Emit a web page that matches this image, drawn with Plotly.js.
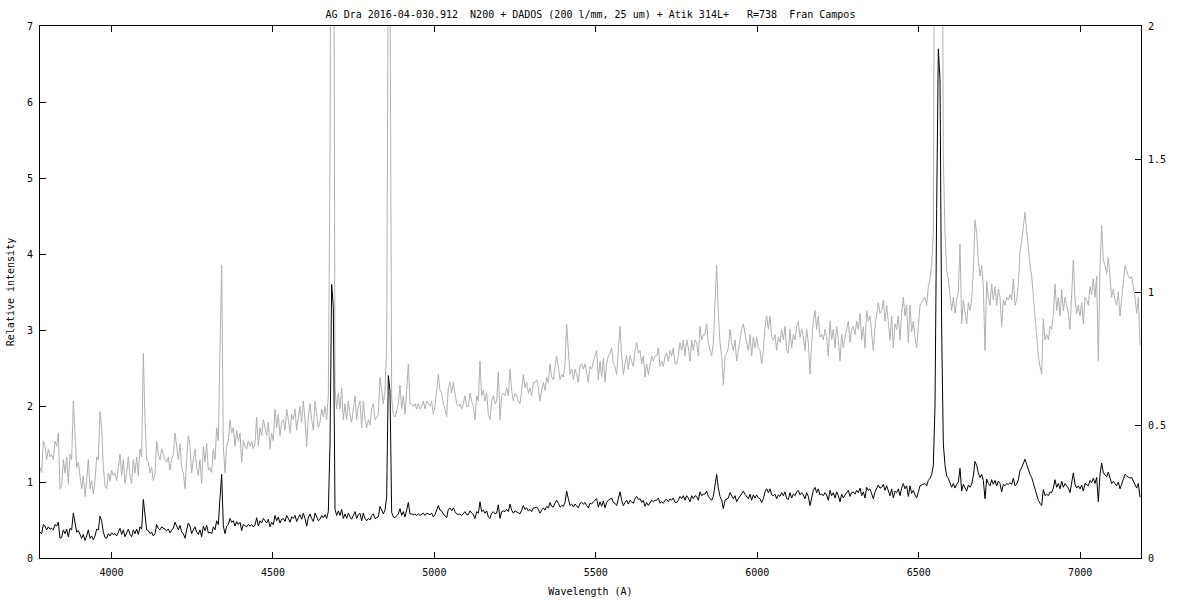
<!DOCTYPE html>
<html><head><meta charset="utf-8">
<script src="https://cdn.plot.ly/plotly-3.0.1.min.js"></script>
<style>html,body{margin:0;padding:0;background:#fff}</style>
</head><body><div id="chart" style="width:1200px;height:600px"></div>
<script>
// Spectrum of AG Dra, uniformly sampled in wavelength (Angstrom)
const startWavelength = 3778.6;
const wavelengthStep = 5.1617;

const flux_3779_4646 = [
0.34,0.32,0.44,0.42,0.37,0.41,0.38,0.39,0.37,0.44,0.42,0.47,0.26,0.27,0.37,0.32,0.38,0.28,0.39,0.37,
0.59,0.45,0.34,0.36,0.31,0.26,0.31,0.23,0.29,0.37,0.26,0.29,0.24,0.29,0.38,0.37,0.55,0.49,0.34,0.27,
0.26,0.32,0.29,0.33,0.31,0.32,0.29,0.34,0.39,0.31,0.37,0.28,0.32,0.38,0.31,0.28,0.37,0.32,0.38,0.31,
0.41,0.38,0.77,0.52,0.37,0.36,0.32,0.34,0.29,0.32,0.44,0.39,0.37,0.41,0.39,0.37,0.36,0.38,0.33,0.37,
0.39,0.47,0.42,0.37,0.43,0.34,0.32,0.26,0.37,0.46,0.42,0.32,0.37,0.41,0.34,0.31,0.37,0.28,0.42,0.36,
0.43,0.33,0.34,0.32,0.41,0.37,0.49,0.44,0.79,1.10,0.42,0.32,0.42,0.44,0.52,0.47,0.49,0.42,0.48,0.44,
0.47,0.36,0.44,0.42,0.41,0.44,0.42,0.44,0.41,0.43,0.53,0.42,0.49,0.46,0.52,0.49,0.46,0.51,0.41,0.47,
0.44,0.56,0.49,0.54,0.46,0.51,0.52,0.48,0.56,0.52,0.47,0.54,0.52,0.56,0.48,0.53,0.57,0.51,0.59,0.52,
0.42,0.53,0.58,0.52,0.48,0.59,0.53,0.49
];
const flux_4646_5513 = [
0.51,0.56,0.53,0.57,0.52,0.61,1.50,3.60,3.30,0.64,0.56,0.62,0.56,0.64,0.52,0.58,0.52,0.59,0.54,0.51,
0.56,0.61,0.52,0.57,0.59,0.49,0.59,0.52,0.49,0.52,0.50,0.56,0.58,0.52,0.53,0.54,0.68,0.62,0.58,0.63,
0.80,2.40,2.20,0.60,0.54,0.53,0.56,0.58,0.65,0.56,0.61,0.54,0.63,0.73,0.58,0.58,0.57,0.58,0.56,0.58,
0.56,0.57,0.59,0.56,0.59,0.58,0.57,0.59,0.54,0.57,0.62,0.69,0.63,0.62,0.58,0.56,0.53,0.64,0.66,0.62,
0.66,0.61,0.58,0.57,0.58,0.56,0.58,0.61,0.57,0.57,0.62,0.59,0.57,0.52,0.61,0.59,0.74,0.61,0.63,0.59,
0.62,0.54,0.52,0.59,0.61,0.58,0.59,0.70,0.52,0.61,0.62,0.61,0.64,0.61,0.71,0.63,0.59,0.62,0.61,0.59,
0.58,0.63,0.69,0.64,0.66,0.62,0.64,0.61,0.66,0.66,0.67,0.64,0.59,0.63,0.66,0.63,0.68,0.66,0.73,0.68,
0.67,0.72,0.76,0.72,0.67,0.69,0.68,0.73,0.88,0.78,0.69,0.71,0.67,0.71,0.69,0.66,0.72,0.73,0.71,0.73,
0.69,0.66,0.72,0.71,0.74,0.76,0.78,0.67
];
const flux_5513_6380 = [
0.74,0.68,0.75,0.66,0.73,0.76,0.77,0.79,0.73,0.72,0.69,0.78,0.87,0.76,0.69,0.73,0.76,0.71,0.76,0.74,
0.72,0.78,0.81,0.77,0.78,0.73,0.76,0.68,0.73,0.69,0.72,0.76,0.74,0.76,0.76,0.79,0.72,0.74,0.72,0.76,
0.77,0.74,0.78,0.76,0.79,0.73,0.73,0.76,0.81,0.78,0.82,0.76,0.82,0.79,0.74,0.82,0.78,0.82,0.81,0.76,
0.87,0.82,0.84,0.84,0.88,0.81,0.78,0.76,0.81,0.97,1.10,0.92,0.81,0.76,0.65,0.76,0.77,0.79,0.86,0.81,
0.78,0.82,0.74,0.78,0.82,0.86,0.88,0.84,0.81,0.78,0.84,0.76,0.83,0.79,0.83,0.79,0.78,0.73,0.78,0.87,
0.91,0.86,0.91,0.83,0.82,0.84,0.78,0.83,0.81,0.86,0.82,0.87,0.78,0.77,0.86,0.79,0.84,0.82,0.87,0.89,
0.83,0.86,0.83,0.78,0.86,0.81,0.69,0.81,0.89,0.93,0.86,0.91,0.83,0.84,0.82,0.86,0.83,0.76,0.89,0.82,
0.86,0.79,0.87,0.82,0.74,0.84,0.79,0.83,0.86,0.89,0.81,0.86,0.87,0.84,0.89,0.86,0.92,0.82,0.87,0.79,
0.93,0.89,0.91,0.84,0.78,0.87,0.92,0.96
];
const flux_6380_7185 = [
0.92,0.93,0.97,0.89,0.95,0.87,0.82,0.91,0.79,0.88,0.86,0.91,0.82,0.92,0.98,0.91,0.95,0.81,0.95,0.85,
0.89,0.83,0.79,0.87,0.95,0.96,0.97,0.98,0.95,1.02,1.05,1.10,1.22,2.00,4.60,6.70,6.30,3.00,1.50,1.22,
1.08,1.05,0.99,0.93,0.98,0.92,0.97,1.00,1.18,0.88,0.97,0.93,0.88,0.96,0.93,0.97,1.08,1.27,1.22,1.12,
1.06,1.10,1.02,0.78,1.04,0.98,0.95,1.03,0.97,1.02,0.95,1.01,0.98,0.87,0.97,0.95,0.98,0.97,0.99,0.97,
1.05,0.95,0.97,1.03,1.15,1.19,1.25,1.30,1.23,1.16,1.10,1.06,0.98,0.89,0.82,0.76,0.72,0.69,0.90,0.82,
0.84,0.82,0.87,0.86,0.92,1.03,0.93,0.98,0.91,1.01,0.93,0.98,0.95,0.92,0.86,1.01,1.12,0.97,0.92,0.95,
0.91,0.96,0.88,0.98,0.97,0.95,1.02,0.99,1.05,0.98,1.06,0.74,1.10,1.25,1.12,1.10,1.07,1.13,1.05,0.98,
1.01,0.97,0.95,1.00,0.91,0.97,1.05,1.10,1.08,1.06,1.05,1.06,1.02,0.98,0.92,0.98,0.80
];

const wavelengthTicks = [4000,4500,5000,5500,6000,6500,7000];
const leftTicks = [0,1,2,3,4,5,6,7];
const rightTicks = [0,0.5,1,1.5,2];
const rightTickLabels = ['0','0.5','1','1.5','2'];
const wavelengthRange = [3778.6, 7188.4];
const leftRange = [0, 7];
const rightRange = [0, 2];

const flux = [].concat(flux_3779_4646, flux_4646_5513, flux_5513_6380, flux_6380_7185);

const NB = '\u00a0';
const titleText = 'AG Dra 2016-04-030.912' + NB + NB + 'N200 + DADOS (200 l/mm, 25 um) + Atik 314L+' + NB + NB + NB + 'R=738' + NB + NB + 'Fran Campos';

const traces = [
  { // magnified copy against the right axis (0-2)
    type: 'scatter', mode: 'lines', x0: startWavelength, dx: wavelengthStep, y: flux,
    xaxis: 'x', yaxis: 'y', line: {color: '#b0b0b0', width: 1}, hoverinfo: 'skip'
  },
  { // spectrum against the left axis (0-7)
    type: 'scatter', mode: 'lines', x0: startWavelength, dx: wavelengthStep, y: flux,
    xaxis: 'x', yaxis: 'y2', line: {color: '#000000', width: 1}, hoverinfo: 'skip'
  }
];

const axisFont = {family: 'DejaVu Sans Mono', size: 10, color: '#000'};

const layout = {
  width: 1200, height: 600,
  margin: {l: 40, r: 59, t: 26, b: 42},
  paper_bgcolor: '#ffffff', plot_bgcolor: '#ffffff',
  showlegend: false,
  font: axisFont,
  title: {text: titleText, font: axisFont, x: 0.5, xref: 'paper', xanchor: 'center',
          y: 1 - 14/600, yref: 'container', yanchor: 'middle'},
  xaxis: {
    range: wavelengthRange, tickvals: wavelengthTicks, ticks: 'inside', ticklen: 6,
    tickcolor: '#000', showline: true, linecolor: '#000', linewidth: 1, mirror: 'ticks',
    showgrid: false, zeroline: false, tickfont: axisFont, ticklabelstandoff: 5,
    title: {text: 'Wavelength (A)', font: axisFont, standoff: 10}
  },
  yaxis: {
    range: rightRange, side: 'right', tickvals: rightTicks, ticktext: rightTickLabels,
    ticks: 'inside', ticklen: 6, tickcolor: '#000', showline: true, linecolor: '#000', linewidth: 1,
    showgrid: false, zeroline: false, tickfont: axisFont, ticklabelstandoff: 4
  },
  yaxis2: {
    range: leftRange, overlaying: 'y', side: 'left', tickvals: leftTicks,
    ticks: 'inside', ticklen: 6, tickcolor: '#000', showline: true, linecolor: '#000', linewidth: 1,
    showgrid: false, zeroline: false, tickfont: axisFont, ticklabelstandoff: 4,
    title: {text: 'Relative intensity', font: axisFont, standoff: 10}
  }
};

Plotly.newPlot('chart', traces, layout, {staticPlot: true, displayModeBar: false});
</script>
</body></html>
